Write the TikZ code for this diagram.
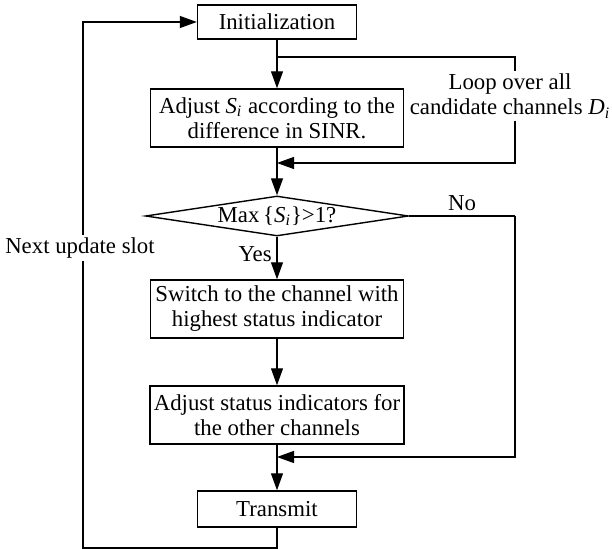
\documentclass[tikz,border=0pt]{standalone}
\usepackage{fontspec}
\setmainfont{Liberation Serif}
\usetikzlibrary{arrows.meta,shapes.geometric}

\newcommand{\Si}{\textit{S}\textsubscript{\textit{i}}}

\begin{document}
\begin{tikzpicture}[x=0.5pt,y=-0.5pt,line width=0.6pt,
  font=\fontsize{11.4pt}{12.5pt}\selectfont,
  >={Triangle[length=8.5pt,width=6pt]}]
  % Define box, decision and label styles
  \tikzstyle{stepbox} = [draw, rectangle, line width=0.7pt, align=center,
  inner sep=2pt, minimum height=29pt]
  \tikzstyle{shortbox} = [stepbox, minimum width=79.5pt, minimum height=17pt]
  \tikzstyle{widebox} = [stepbox, minimum width=126.5pt]
  \tikzstyle{decision} = [draw, diamond, line width=0.7pt, aspect=6.5,
  inner sep=0pt, minimum width=131.5pt, minimum height=20pt]
  \tikzstyle{looplabel} = [fill=white, align=center, inner sep=1pt]

  \useasboundingbox (0,0) rectangle (612,550);

  \node [shortbox] (init) at (277,22) {Initialization};
  \node [widebox] (adjust) at (277,118)
    {Adjust \Si{} according to the\\difference in SINR.};
  \node [decision] (dec) at (277,216) {Max\,\{\Si\}>1?};
  \node [widebox] (switch) at (277,309)
    {Switch to the channel with\\highest status indicator};
  \node [widebox] (status) at (277,415)
    {Adjust status indicators for\\the other channels};
  \node [shortbox, minimum height=18pt] (tx) at (277,509) {Transmit};

  % corner points of the connectors
  \coordinate (br1) at (277,57);
  \coordinate (lp1) at (515,57);
  \coordinate (lp2) at (515,163);
  \coordinate (mg1) at (277,163);
  \coordinate (no1) at (515,216);
  \coordinate (no2) at (515,457);
  \coordinate (mg2) at (277,457);
  \coordinate (bk1) at (277,548);
  \coordinate (bk2) at (83,548);
  \coordinate (bk3) at (83,22);

  \node [looplabel] (loop) at (510,96)
    {Loop over all\\candidate channels \textit{D}\textsubscript{\textit{i}}};
  \node [looplabel] (next) at (80,248) {Next update slot};

  \draw [->] (init) -- (adjust);
  \draw (br1) -- (lp1) -- (loop.north -| lp1);
  \draw [->] (loop.south -| lp2) -- (lp2) -- (mg1);
  \draw [->] (adjust) -- (dec);
  \draw [->] (dec) -- node [pos=0.4, left=-1pt] {Yes} (switch);
  \draw (dec.east) -- (no1) node [pos=0.5, above=-1pt] {No};
  \draw [->] (no1) -- (no2) -- (mg2);
  \draw [->] (switch.south) -- (status.north);
  \draw [->] (status) -- (tx);
  \draw (tx) -- (bk1) -- (bk2) -- (next.south -| bk2);
  \draw [->] (next.north -| bk3) -- (bk3) -- (init);
\end{tikzpicture}
\end{document}
